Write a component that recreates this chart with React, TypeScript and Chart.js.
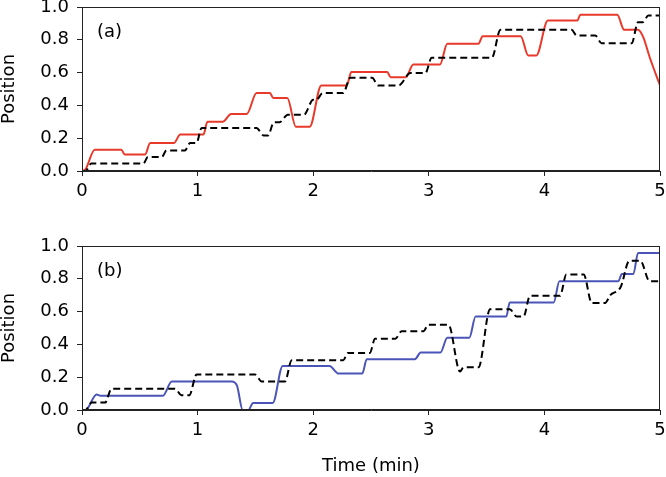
import React, { useEffect, useRef } from "react";
import { Chart, registerables } from "chart.js";

Chart.register(...registerables);

// ---------- data ----------
const xTickValues = [0, 1, 2, 3, 4, 5];
const yTickValues = [0, 0.2, 0.4, 0.6, 0.8, 1.0];

// Panel (a): red (measured) trace
const aRedT = [0, 0.03, 0.11, 0.34, 0.37, 0.545, 0.59, 0.795, 0.85, 1.05, 1.085, 1.217, 1.29, 1.425, 1.51, 1.626, 1.655, 1.776, 1.85, 1.97, 2.07, 2.29, 2.33, 2.64, 2.67, 2.8, 2.866, 3.097, 3.16, 3.43, 3.466, 3.795, 3.86, 3.93, 4.03, 4.285, 4.31, 4.63, 4.69, 4.81, 4.855, 4.91, 5.0];
const aRedV = [0, 0.01, 0.13, 0.13, 0.1, 0.1, 0.17, 0.17, 0.222, 0.222, 0.3, 0.3, 0.348, 0.348, 0.475, 0.475, 0.445, 0.445, 0.27, 0.27, 0.522, 0.522, 0.603, 0.603, 0.572, 0.572, 0.65, 0.65, 0.776, 0.776, 0.822, 0.822, 0.704, 0.704, 0.917, 0.917, 0.952, 0.952, 0.861, 0.861, 0.816, 0.695, 0.522];

// Panel (a): black dashed (reference) trace
const aRefT = [0, 0.03, 0.08, 0.53, 0.57, 0.69, 0.73, 0.89, 0.935, 0.99, 1.035, 1.51, 1.57, 1.61, 1.66, 1.71, 1.78, 1.92, 2.0, 2.03, 2.08, 2.26, 2.32, 2.51, 2.56, 2.74, 2.84, 2.97, 3.025, 3.545, 3.62, 4.235, 4.28, 4.44, 4.495, 4.755, 4.81, 4.85, 4.9, 5.0];
const aRefV = [0, 0.0, 0.045, 0.045, 0.085, 0.085, 0.125, 0.125, 0.17, 0.17, 0.262, 0.262, 0.217, 0.217, 0.298, 0.298, 0.343, 0.343, 0.435, 0.435, 0.475, 0.475, 0.569, 0.569, 0.522, 0.522, 0.597, 0.597, 0.69, 0.69, 0.861, 0.861, 0.826, 0.826, 0.779, 0.779, 0.907, 0.907, 0.948, 0.948];

// Panel (b): blue (measured) trace
const bBlueT = [0, 0.03, 0.127, 0.16, 0.7, 0.776, 1.295, 1.34, 1.39, 1.44, 1.48, 1.65, 1.736, 2.14, 2.22, 2.425, 2.463, 2.88, 2.93, 3.1, 3.16, 3.35, 3.405, 3.67, 3.7, 4.08, 4.13, 4.64, 4.67, 4.77, 4.81, 5.0];
const bBlueV = [0, 0, 0.095, 0.087, 0.087, 0.174, 0.174, 0.15, 0, 0, 0.043, 0.043, 0.268, 0.268, 0.222, 0.222, 0.31, 0.31, 0.35, 0.35, 0.44, 0.44, 0.57, 0.57, 0.655, 0.655, 0.785, 0.785, 0.83, 0.83, 0.957, 0.957];

// Panel (b): black dashed (reference) trace
const bRefT = [0, 0.03, 0.084, 0.2, 0.256, 0.804, 0.862, 0.928, 0.992, 1.497, 1.554, 1.756, 1.814, 2.26, 2.3, 2.49, 2.535, 2.71, 2.765, 2.953, 2.996, 3.17, 3.27, 3.3, 3.43, 3.53, 3.7, 3.76, 3.82, 3.875, 4.135, 4.19, 4.34, 4.41, 4.525, 4.57, 4.66, 4.735, 4.83, 4.91, 5.0];
const bRefV = [0, 0, 0.045, 0.045, 0.13, 0.13, 0.09, 0.09, 0.217, 0.217, 0.174, 0.174, 0.304, 0.304, 0.348, 0.348, 0.435, 0.435, 0.48, 0.48, 0.52, 0.52, 0.235, 0.26, 0.26, 0.615, 0.615, 0.57, 0.57, 0.696, 0.696, 0.826, 0.826, 0.652, 0.652, 0.7, 0.75, 0.91, 0.91, 0.785, 0.785];

const panelLabels = ["(a)", "(b)"];
const labelAt = { x: 0.13, y: 0.845 };

const xTitle = "Time (min)";
const yTitle = "Position";

const RED = "#e8392a";
const BLUE = "#4b55b8";
const BLACK = "#000000";
const TEXT = "#000000";
const FONT = "'DejaVu Sans', 'Liberation Sans', Arial, sans-serif";

const zip = (t: number[], v: number[]) => t.map((x, i) => ({ x, y: v[i] }));

const framePlugin = {
  id: "frame",
  afterDraw(chart: any) {
    const { ctx, chartArea } = chart;
    ctx.save();
    ctx.strokeStyle = "#222";
    ctx.lineWidth = 1;
    ctx.strokeRect(
      Math.round(chartArea.left) + 0.5,
      Math.round(chartArea.top) + 0.5,
      Math.round(chartArea.right - chartArea.left) - 1,
      Math.round(chartArea.bottom - chartArea.top) - 1
    );
    const label = chart.options.plugins.panelLabel?.text;
    if (label) {
      const xs = chart.scales.x;
      const ys = chart.scales.y;
      ctx.fillStyle = TEXT;
      ctx.font = `18px ${FONT}`;
      ctx.textAlign = "left";
      ctx.textBaseline = "middle";
      ctx.fillText(label, xs.getPixelForValue(labelAt.x), ys.getPixelForValue(labelAt.y));
    }
    ctx.restore();
  },
};

function makeConfig(
  datasets: any[],
  label: string,
  padTop: number,
  xAxisHeight: number,
  showXTitle: boolean
): any {
  return {
    type: "line",
    data: { datasets },
    plugins: [framePlugin],
    options: {
      responsive: false,
      animation: false,
      devicePixelRatio: 1,
      layout: { padding: { left: 0, right: 6, top: padTop, bottom: 0 } },
      elements: { point: { radius: 0 } },
      plugins: {
        legend: { display: false },
        tooltip: { enabled: false },
        panelLabel: { text: label },
      },
      scales: {
        x: {
          type: "linear",
          min: 0,
          max: 5,
          afterBuildTicks: (s: any) => {
            s.ticks = xTickValues.map((v) => ({ value: v }));
          },
          ticks: {
            color: TEXT,
            font: { family: FONT, size: 18 },
            padding: 5,
            maxRotation: 0,
            callback: (v: any) => String(v),
          },
          grid: { drawOnChartArea: false, tickLength: 5, color: "#222" },
          border: { color: "#222", width: 1 },
          title: {
            display: showXTitle,
            text: xTitle,
            color: TEXT,
            font: { family: FONT, size: 18 },
            padding: { top: 0, bottom: 0 },
          },
          afterFit: (s: any) => {
            s.height = xAxisHeight;
            s.paddingLeft = 0;
            s.paddingRight = 0;
          },
        },
        y: {
          type: "linear",
          min: 0,
          max: 1,
          afterBuildTicks: (s: any) => {
            s.ticks = yTickValues.map((v) => ({ value: v }));
          },
          ticks: {
            color: TEXT,
            font: { family: FONT, size: 18 },
            padding: 8,
            callback: (v: any) => Number(v).toFixed(1),
          },
          grid: { drawOnChartArea: false, tickLength: 5, color: "#222" },
          border: { color: "#222", width: 1 },
          title: {
            display: true,
            text: yTitle,
            color: TEXT,
            font: { family: FONT, size: 18, lineHeight: 1 },
            padding: { top: 0, bottom: 0 },
          },
          afterFit: (s: any) => {
            s.width = 82;
            s.paddingTop = 0;
            s.paddingBottom = 0;
          },
        },
      },
    },
  };
}

function lineDs(t: number[], v: number[], color: string, dashed: boolean) {
  return {
    data: zip(t, v),
    borderColor: color,
    borderWidth: 2,
    borderDash: dashed ? [7, 4] : [],
    cubicInterpolationMode: "monotone",
    fill: false,
    pointRadius: 0,
  };
}

export default function App() {
  const refA = useRef<HTMLCanvasElement>(null);
  const refB = useRef<HTMLCanvasElement>(null);

  useEffect(() => {
    const chartA = new Chart(
      refA.current as HTMLCanvasElement,
      makeConfig(
        [lineDs(aRefT, aRefV, BLACK, true), lineDs(aRedT, aRedV, RED, false)],
        panelLabels[0],
        7,
        44,
        false
      )
    );
    const chartB = new Chart(
      refB.current as HTMLCanvasElement,
      makeConfig(
        [lineDs(bRefT, bRefV, BLACK, true), lineDs(bBlueT, bBlueV, BLUE, false)],
        panelLabels[1],
        31,
        67,
        true
      )
    );
    return () => {
      chartA.destroy();
      chartB.destroy();
    };
  }, []);

  return (
    <div style={{ position: "absolute", left: 0, top: 0, width: 666, height: 477, background: "#fff" }}>
      <canvas ref={refA} width={666} height={215} style={{ display: "block", width: 666, height: 215 }} />
      <canvas ref={refB} width={666} height={262} style={{ display: "block", width: 666, height: 262 }} />
    </div>
  );
}
